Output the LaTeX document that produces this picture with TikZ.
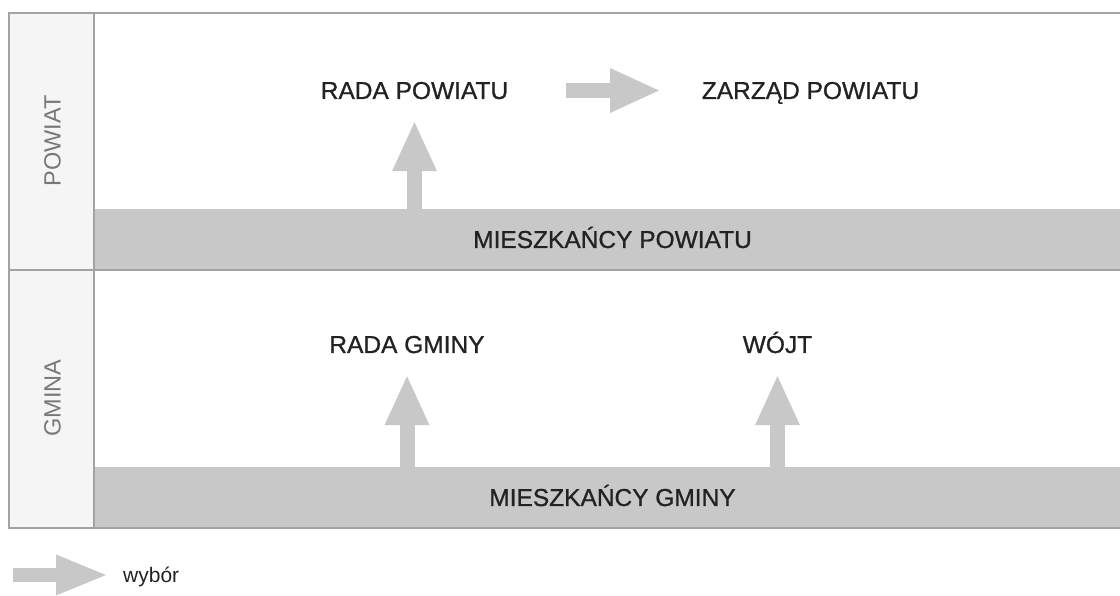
\documentclass[tikz,border=0pt]{standalone}
\usepackage{fontspec}
\setmainfont{Liberation Sans}
\newfontfamily\organfont[FakeBold=0.9]{Liberation Sans}
\usetikzlibrary{arrows.meta}

\definecolor{frameGray}{HTML}{A3A3A3}
\definecolor{bandGray}{HTML}{C8C8C8}
\definecolor{sideFill}{HTML}{F5F5F5}
\definecolor{sideGray}{HTML}{787878}
\definecolor{textDark}{HTML}{222222}

\begin{document}
\begin{tikzpicture}[
					x=1pt, y=1pt,
					frame/.style={draw=frameGray, line width=2pt},
					organ/.style={text=textDark, font=\organfont\fontsize{24.5}{29}\selectfont, inner sep=0pt, text height=17pt, text depth=0pt},
					band/.style={organ, fill=bandGray, minimum width=1037pt, minimum height=61pt},
					side/.style={organ, text=sideGray, font=\fontsize{23.5}{28}\selectfont, rotate=90},
					choice/.style={draw=bandGray, line width=15pt, -{Triangle[length=49pt, width=45pt, line width=0pt]}}
					]
					\useasboundingbox (0,0) rectangle (1120,595);
					% pasy mieszkancow
					\node (mieszkPowiatu) [band] at (612.5,355.5) {MIESZKAŃCY POWIATU};
					\node (mieszkGminy) [band] at (612.5,97.5) {MIESZKAŃCY GMINY};
					% ramka
					\draw[frame, fill=sideFill] (9,67) rectangle (94,582);
					\draw[frame] (9,582) -- (1120,582);
					\draw[frame] (9,325) -- (1120,325);
					\draw[frame] (9,67) -- (1120,67);
					\node (powiatLbl) [side] at (52,454) {POWIAT};
					\node (gminaLbl) [side] at (52,197) {GMINA};
					% organy
					\node (radaPowiatu) [organ, anchor=base] at (414.5,496) {RADA POWIATU};
					\node (zarzadPowiatu) [organ, anchor=base] at (810.5,496) {ZARZĄD POWIATU};
					\node (radaGminy) [organ, anchor=base] at (407,242) {RADA GMINY};
					\node (wojt) [organ, anchor=base] at (777.5,242) {WÓJT};
					\draw[choice, shorten >=23pt] (mieszkPowiatu.north -| radaPowiatu) -- (radaPowiatu.south);
					\draw[choice, shorten <=151.5pt, shorten >=151.5pt] (radaPowiatu.center) -- (zarzadPowiatu.center);
					\draw[choice, shorten >=23pt] (mieszkGminy.north -| radaGminy) -- (radaGminy.south);
					\draw[choice, shorten >=23pt] (mieszkGminy.north -| wojt) -- (wojt.south);
					% legenda
					\coordinate (legStart) at (13,20);
					\node (wybor) [anchor=base west, inner sep=0pt, text=textDark, font=\fontsize{21}{25}\selectfont] at (123,13) {wybór};
					\draw[choice, line width=14pt, -{Triangle[length=50pt, width=41pt, line width=0pt]}, shorten >=17pt] (legStart) -- (legStart -| wybor.west);
				\end{tikzpicture}
\end{document}
